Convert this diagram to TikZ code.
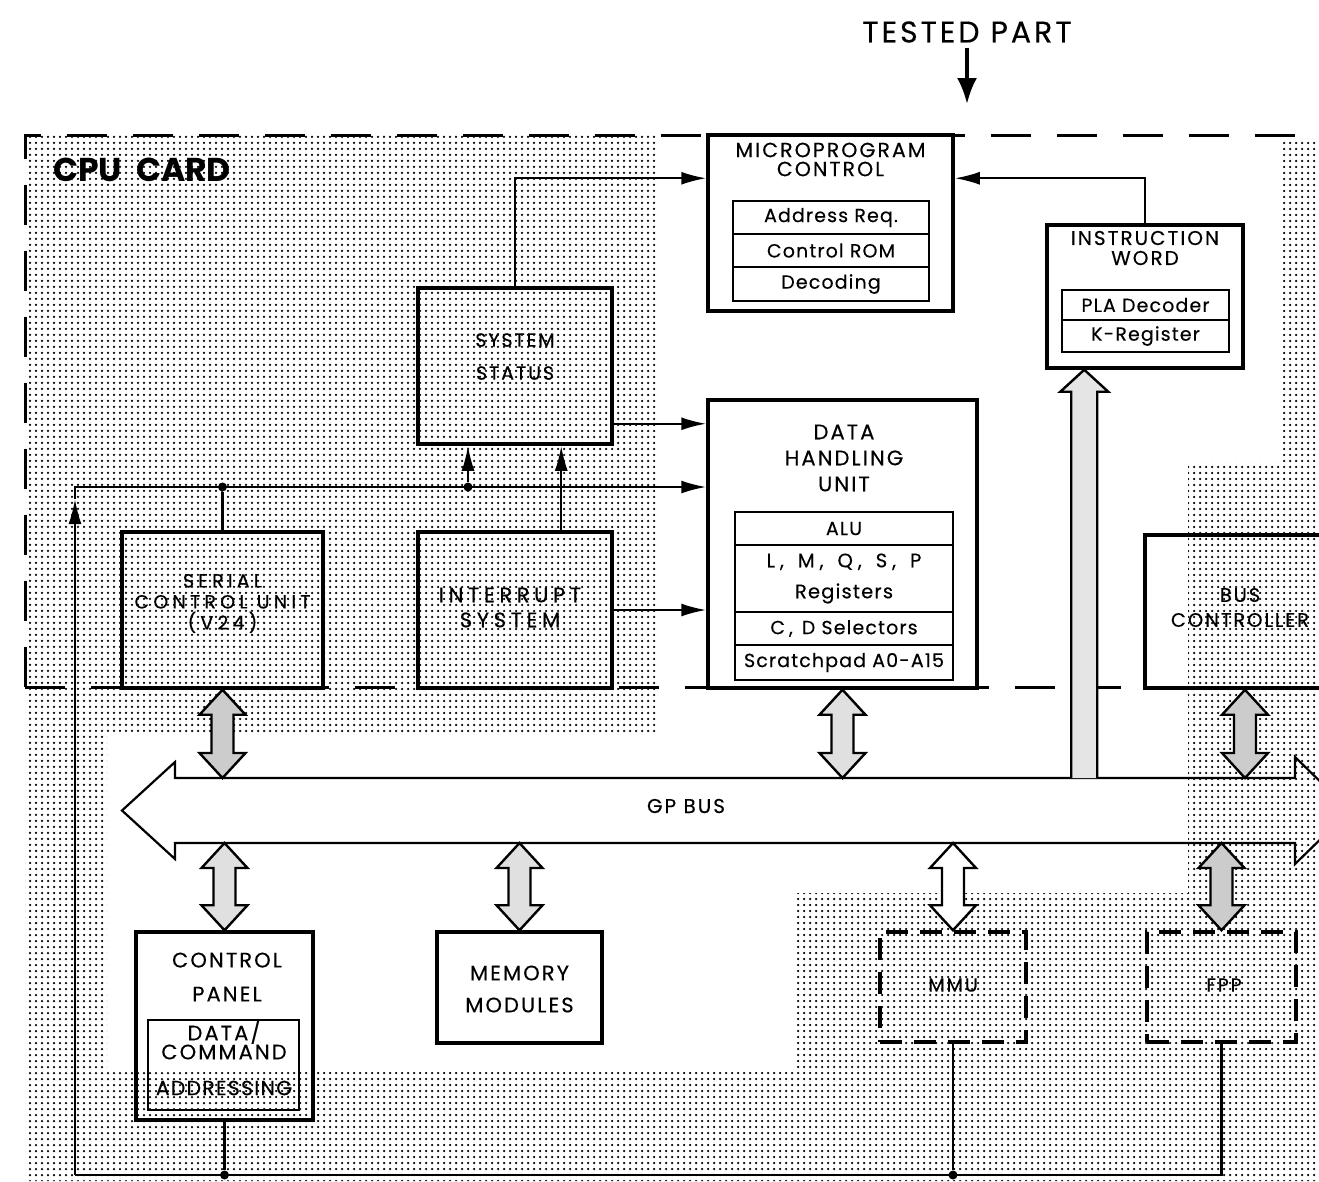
\documentclass[tikz,border=0pt]{standalone}
\usepackage{fontspec}
\setmainfont{Poppins}
\newfontfamily\lblfont[LetterSpace=10,FakeBold=0.3]{Poppins}
\newfontfamily\rowfont[LetterSpace=6,FakeBold=0.3]{Poppins}
\newfontfamily\widefont[LetterSpace=22,FakeBold=0.3]{Poppins}
\usetikzlibrary{patterns.meta,arrows.meta,calc}

\tikzdeclarepattern{
  name=screen,
  type=uncolored,
  bounding box={(-3pt,-3pt) and (3pt,3pt)},
  tile size={(6pt,6pt)},
  code={\fill (0pt,0pt) circle (1.25pt);}
}

\newcommand\dblarr[3]{%
  \draw[darrow,#1] (#2) -- ($(#2)+(23,25)$) -- ($(#2)+(11,25)$) -- ($(#3)+(11,-25)$) -- ($(#3)+(23,-25)$) -- (#3) -- ($(#3)+(-23,-25)$) -- ($(#3)+(-11,-25)$) -- ($(#2)+(-11,25)$) -- ($(#2)+(-23,25)$) -- cycle;}

\tikzset{
  box/.style={draw, line width=3.5pt, inner sep=0pt},
  dbox/.style={draw, line width=3.5pt, dash pattern=on 22pt off 12pt, inner sep=0pt},
  row/.style={draw, line width=2.2pt, inner sep=0pt},
  conn/.style={line width=2.2pt},
  tip/.style={-{Latex[length=25pt,width=13pt]}},
  darrow/.style={line width=2.4pt, line join=miter},
  lightfill/.style={fill=black!12},
  lbl/.style={inner sep=0pt, align=center},
  jdot/.style={circle, fill, inner sep=0pt, minimum size=9pt},
  cpuline/.style={line width=3pt, dash pattern=on 40pt off 26pt},
  f19/.style={font=\rowfont\fontsize{19}{19}\selectfont},
}

\begin{document}
\begin{tikzpicture}[x=1pt,y=-1pt]
\useasboundingbox (0,0) rectangle (1319,1181);
\clip (0,0) rectangle (1319,1181);

% screened (dotted) background regions
\fill[pattern=screen, pattern color=black]
  (25,135) rectangle (657,735)
  (25,687) rectangle (107,1181)
  (25,1072) rectangle (1319,1181)
  (795,893) rectangle (1319,1181)
  (1188,462) rectangle (1319,1181)
  (1283,138) rectangle (1319,462);

% CPU card boundary
\draw[cpuline] (25,687) -- (25,135) -- (1340,135);
\draw[cpuline] (25,687) -- (1145,687);

% headings
\node[lbl, font=\bfseries\fontsize{33}{33}\selectfont] (cpu) at (142,170) {CPU\hspace{14pt}CARD};
\node[lbl, font=\lblfont\fontsize{30}{30}\selectfont] (tp) at (967,32) {TESTED PART};
\coordinate (tpend) at (967,104);
\draw[line width=3.5pt, -{Latex[length=26pt,width=20pt]}] (tp.south) ++(0,5) -- (tpend);

% Microprogram control
\node[box, minimum width=245pt, minimum height=176pt] (mpc) at (830.5,223) {};
\node[lbl, font=\lblfont\fontsize{20.5}{19}\selectfont] (mpct) at (830.5,159.5) {MICROPROGRAM\\CONTROL};
\node[row, f19, minimum width=196pt, minimum height=33pt] (mr1) at (831,217.5) {Address Req.};
\node[row, f19, minimum width=196pt, minimum height=33pt] (mr2) at (831,250.5) {Control ROM};
\node[row, f19, minimum width=196pt, minimum height=34pt] (mr3) at (831,284) {Decoding};

% Instruction word
\node[box, minimum width=196pt, minimum height=143pt] (iw) at (1145,296.5) {};
\node[lbl, font=\lblfont\fontsize{20}{20}\selectfont] (iwt) at (1145,248) {INSTRUCTION\\WORD};
\node[row, f19, minimum width=167pt, minimum height=30pt] (ir1) at (1145.5,305) {PLA Decoder};
\node[row, f19, minimum width=167pt, minimum height=32pt] (ir2) at (1145.5,336) {K-Register};

% System status
\node[box, minimum width=194pt, minimum height=156pt] (ss) at (515,366) {};
\node[lbl, font=\lblfont\fontsize{19}{33}\selectfont] (sst) at (515,356.5) {SYSTEM\\STATUS};

% Data handling unit
\node[box, minimum width=269pt, minimum height=288pt] (dhu) at (842.5,544) {};
\node[lbl, font=\lblfont\fontsize{21}{26}\selectfont] (dhut) at (844,458) {DATA\\HANDLING\\UNIT};
\node[row, f19, minimum width=218pt, minimum height=33pt] (dr1) at (844,528.5) {ALU};
\node[row, font=\rowfont\fontsize{19.5}{31}\selectfont, align=center, minimum width=218pt, minimum height=67pt] (dr2) at (844,578.5) {L\hspace{5pt},\hspace{14pt}M\hspace{5pt},\hspace{14pt}Q\hspace{5pt},\hspace{14pt}S\hspace{5pt},\hspace{14pt}P\\Registers};
\node[row, f19, minimum width=218pt, minimum height=33pt] (dr3) at (844,628.5) {C\hspace{4pt},\hspace{9pt}D Selectors};
\node[row, f19, minimum width=218pt, minimum height=35pt] (dr4) at (844,662.5) {Scratchpad A0-A15};

% Serial control unit, interrupt system, bus controller
\node[box, minimum width=201pt, minimum height=156pt] (scu) at (222.5,610) {};
\node[lbl, font=\widefont\fontsize{19}{21}\selectfont] (scut) at (222.5,603.5) {SERIAL\\CONTROL UNIT\\(V24)};
\node[box, minimum width=194pt, minimum height=156pt] (isys) at (515,610) {};
\node[lbl, font=\widefont\fontsize{21}{25}\selectfont] (isyst) at (510,607.5) {INTERRUPT\\SYSTEM};
\node[box, minimum width=200pt, minimum height=153pt] (bc) at (1245,611.5) {};
\node[lbl, font=\lblfont\fontsize{19.5}{25}\selectfont] (bct) at (1240,607.5) {BUS\\CONTROLLER};

% Lower boxes
\node[box, minimum width=177pt, minimum height=188pt] (cp) at (224.5,1026) {};
\node[lbl, font=\lblfont\fontsize{21}{34}\selectfont] (cpt) at (227,977) {CONTROL\\PANEL};
\node[row, line width=2.8pt, minimum width=151pt, minimum height=90pt] (cpi) at (223.5,1065) {};
\node[lbl, font=\lblfont\fontsize{21}{19}\selectfont] (cpit) at (224,1040) {DATA/\\COMMAND};
\node[lbl, font=\rowfont\fontsize{20.5}{18}\selectfont] (cpia) at (224,1088) {ADDRESSING};
\node[box, minimum width=165pt, minimum height=111pt] (mem) at (519.5,987.5) {};
\node[lbl, font=\lblfont\fontsize{21}{32}\selectfont] (memt) at (519.5,989) {MEMORY\\MODULES};
\node[dbox, minimum width=146pt, minimum height=110pt] (mmu) at (953,987) {};
\node[lbl, font=\lblfont\fontsize{19}{17}\selectfont] (mmut) at (953,985) {MMU};
\node[dbox, minimum width=149pt, minimum height=110pt] (fpp) at (1221.5,987) {};
\node[lbl, font=\lblfont\fontsize{19}{17}\selectfont] (fppt) at (1224,985) {FPP};

% GP bus
\coordinate (bt) at (0,778);
\coordinate (bb) at (0,843);
\draw[line width=2.2pt, line join=miter]
  (122,810.5) -- (175,762) -- (175,778) -- (1295,778) -- (1295,757) -- (1350,810.5)
  -- (1295,864) -- (1295,843) -- (175,843) -- (175,859) -- cycle;
\node[lbl, font=\lblfont\fontsize{20}{18}\selectfont] (bus) at (686,806) {GP BUS};

% control connectors
\draw[conn, tip] (ss.north) |- ($(mpc.north west)+(0,45)$);
\draw[conn, tip] (iw.north) |- ($(mpc.north east)+(0,45)$);
\coordinate (ssr) at ($(ss.south east)+(0,-22)$);
\draw[conn, tip] (ssr) -- (ssr -| dhu.west);
\draw[conn, tip] (isys.east) -- (isys.east -| dhu.west);

\coordinate (corner) at (75,487);
\coordinate (bl) at (75,1175);
\coordinate (armid) at (75,499);
\draw[conn, tip] (bl) -- (armid);
\draw[conn, tip] (armid) -- (corner) -- (corner -| dhu.west);
\node[jdot] (j1) at (scu.north |- corner) {};
\draw[conn] (scu.north) -- (j1);
\node[jdot] (j2) at (468,487) {};
\draw[conn, tip] (j2) -- (j2 |- ss.south);
\coordinate (isu) at ($(isys.north west)+(145,0)$);
\draw[conn, tip] (isu) -- (isu |- ss.south);

\draw[conn] (bl) -- (fpp.south |- bl) -- (fpp.south);
\node[jdot] (j3) at (cp.south |- bl) {};
\draw[conn] (cp.south) -- (j3);
\node[jdot] (j4) at (mmu.south |- bl) {};
\draw[conn] (mmu.south) -- (j4);

% bus connections (double arrows)
\coordinate (a1t) at (scu.south);   \coordinate (a1b) at (scu.south |- bt);
\coordinate (a2t) at (dhu.south);   \coordinate (a2b) at (dhu.south |- bt);
\coordinate (a3t) at (bc.south);    \coordinate (a3b) at (bc.south |- bt);
\coordinate (a4t) at (cp.north |- bb);  \coordinate (a4b) at (cp.north);
\coordinate (a5t) at (mem.north |- bb); \coordinate (a5b) at (mem.north);
\coordinate (a6t) at (mmu.north |- bb); \coordinate (a6b) at (mmu.north);
\coordinate (a7t) at (fpp.north |- bb); \coordinate (a7b) at (fpp.north);
\dblarr{fill=black!20}{a1t}{a1b}
\dblarr{lightfill}{a2t}{a2b}
\dblarr{fill=black!20}{a3t}{a3b}
\dblarr{lightfill}{a4t}{a4b}
\dblarr{lightfill}{a5t}{a5b}
\dblarr{fill=white}{a6t}{a6b}
\dblarr{fill=black!20}{a7t}{a7b}

% single wide arrow from bus up to instruction word
\coordinate (iwa) at ($(iw.south west)+(39,0)$);
\coordinate (iwb) at (iwa |- bt);
\fill[black!10] ($(iwb)+(-13,0)$) -- ($(iwa)+(-13,22)$) -- ($(iwa)+(-24,22)$) -- (iwa) -- ($(iwa)+(24,22)$) -- ($(iwa)+(13,22)$) -- ($(iwb)+(13,0)$) -- cycle;
\draw[darrow] ($(iwb)+(-13,0)$) -- ($(iwa)+(-13,22)$) -- ($(iwa)+(-24,22)$) -- (iwa) -- ($(iwa)+(24,22)$) -- ($(iwa)+(13,22)$) -- ($(iwb)+(13,0)$);
\end{tikzpicture}
\end{document}
